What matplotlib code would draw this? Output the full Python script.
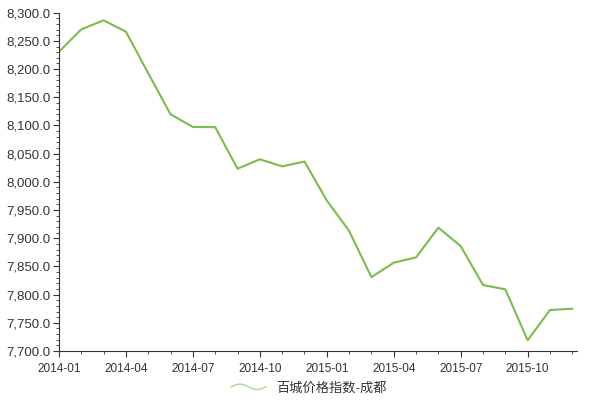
import matplotlib
matplotlib.use("Agg")
import matplotlib.pyplot as plt
from matplotlib.ticker import FuncFormatter, MultipleLocator
from matplotlib.legend_handler import HandlerBase
from matplotlib.lines import Line2D
import numpy as np

plt.rcParams['font.family'] = ['Liberation Sans', 'Noto Sans CJK SC', 'DejaVu Sans']

months = ['2014-01', '2014-02', '2014-03', '2014-04', '2014-05', '2014-06',
          '2014-07', '2014-08', '2014-09', '2014-10', '2014-11', '2014-12',
          '2015-01', '2015-02', '2015-03', '2015-04', '2015-05', '2015-06',
          '2015-07', '2015-08', '2015-09', '2015-10', '2015-11', '2015-12']
index_chengdu = [8230.8, 8270.5, 8286.5, 8266.3, 8192.5, 8119.8,
                 8097.3, 8097.0, 8023.3, 8040.0, 8027.5, 8036.0,
                 7967.0, 7913.0, 7831.0, 7856.6, 7866.0, 7918.7,
                 7886.0, 7817.0, 7809.4, 7719.0, 7772.7, 7775.0]
series_name = '百城价格指数-成都'
label_every = 3

line_color = '#7abd4a'


class WavyHandler(HandlerBase):
    # legend symbol drawn as a small wave, like the original chart
    def create_artists(self, legend, orig_handle, xdescent, ydescent,
                       width, height, fontsize, trans):
        t = np.linspace(0, 1, 40)
        xs = -xdescent + t * width
        ys = -ydescent + height / 2 + np.sin(t * 2 * np.pi) * height * 0.3
        ln = Line2D(xs, ys, color='#a8d88a', lw=1.0, transform=trans)
        return [ln]


x = np.arange(len(months))

fig = plt.figure(figsize=(6.0, 4.01), dpi=100)
ax = fig.add_axes([0.0983, 0.1247, 0.8637, 0.8436])

line, = ax.plot(x, index_chengdu, color=line_color, lw=1.5, label=series_name)

ax.set_xlim(0, len(months) - 1 + 0.22)
ax.set_ylim(7700, 8300)

ax.set_xticks(x[::label_every])
ax.set_xticklabels(months[::label_every], fontsize=8.5, color='#333333')
ax.xaxis.set_minor_locator(MultipleLocator(1))

ax.yaxis.set_major_locator(MultipleLocator(50))
ax.yaxis.set_minor_locator(MultipleLocator(10))
ax.yaxis.set_major_formatter(FuncFormatter(lambda v, p: f'{v:,.1f}'))
for lab in ax.get_yticklabels():
    lab.set_fontsize(9.5)
    lab.set_color('#333333')

for side in ['top', 'right']:
    ax.spines[side].set_visible(False)
for side in ['left', 'bottom']:
    ax.spines[side].set_color('#333333')
    ax.spines[side].set_linewidth(0.8)

ax.tick_params(which='major', length=4, width=0.8, color='#333333', pad=2)
ax.tick_params(which='minor', length=2, width=0.6, color='#333333')
ax.tick_params(axis='x', which='major', pad=5)

leg = fig.legend(handles=[line], labels=[series_name], loc='center',
                 bbox_to_anchor=(0.515, 0.032), frameon=False,
                 fontsize=9.5, handlelength=2.6, handletextpad=0.8,
                 handler_map={line: WavyHandler()})
for t in leg.get_texts():
    t.set_color('#333333')

fig.savefig('out.png', dpi=100)
